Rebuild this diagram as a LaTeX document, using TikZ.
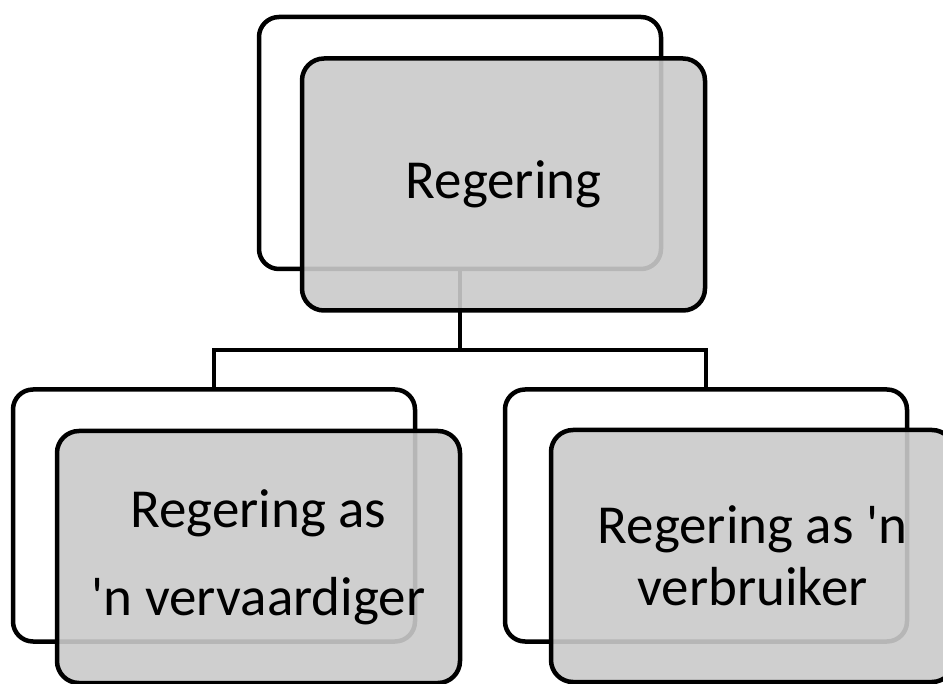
\documentclass[tikz,border=0pt]{standalone}
\usepackage{fontspec}
\setmainfont{Carlito}
\usetikzlibrary{positioning}
\definecolor{boxgray}{RGB}{202,202,202}

\tikzset{
  backbox/.style={draw=black, line width=4.5pt, rounded corners=20pt, fill=white,
    minimum width=402pt, minimum height=252pt, inner sep=0pt},
  frontbox/.style={draw=black, line width=4.5pt, rounded corners=22pt,
    fill=boxgray, fill opacity=0.9, text opacity=1,
    minimum width=403pt, minimum height=252pt, inner sep=0pt, align=center},
  link/.style={line width=4.5pt}
}

\begin{document}
\begin{tikzpicture}[x=1pt, y=-1pt]
    \clip (0,0) rectangle (943,684);

    % Back cards
    \node[backbox] (govback) at (460,143) {};
    \node[backbox] (makerback) at (214,515.5) {};
    \node[backbox] (userback) at (706,515.5) {};

    % Connectors
    \coordinate (split) at (460,350);
    \draw[link] (govback.south) -- (split);
    \draw[link] (makerback.north) |- (split) -| (userback.north);

    % Front cards
    \node[frontbox, font=\fontsize{55}{61}\selectfont] (gov) at (503.5,184.5) {Regering};
    \node[frontbox, font=\fontsize{55}{88}\selectfont] (maker) at (258.5,557)
        {Regering as\\\textquotesingle n vervaardiger};
    \node[frontbox, font=\fontsize{55}{62}\selectfont] (user) at (752.5,556)
        {Regering as \textquotesingle n\\verbruiker};
\end{tikzpicture}
\end{document}
